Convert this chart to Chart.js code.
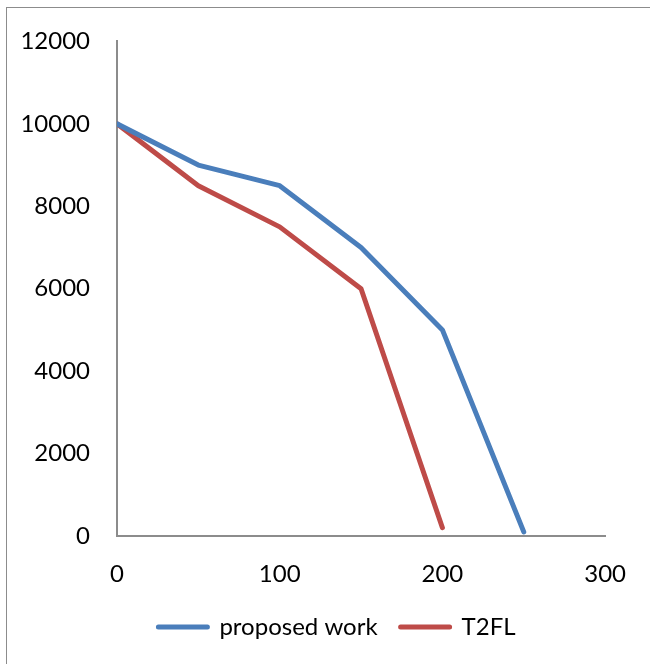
<!DOCTYPE html>
<html>
<head>
<meta charset="utf-8">
<script src="https://cdn.jsdelivr.net/npm/chart.js@4/dist/chart.umd.min.js"></script>
<style>
  html, body { margin: 0; padding: 0; background: #fff; overflow: hidden; }
  #wrap { position: relative; width: 650px; height: 664px; overflow: hidden; }
  #frame { position: absolute; left: 6px; top: 7px; right: 0; bottom: 0;
           border-top: 1px solid #8c8c8c; border-left: 1px solid #8c8c8c; pointer-events: none; }
</style>
</head>
<body>
<div id="wrap">
  <canvas id="chart" width="650" height="664"></canvas>
  <div id="frame"></div>
</div>
<script>
// values
const xValues = [0, 50, 100, 150, 200, 250];
const proposedWork = [10000, 9000, 8500, 7000, 5000, 100];
const t2fl = [10000, 8500, 7500, 6000, 200];
const xTicks = [0, 100, 200, 300];
const yTicks = [0, 2000, 4000, 6000, 8000, 10000, 12000];

const toPoints = (ys) => ys.map((y, i) => ({ x: xValues[i], y: y }));

Chart.defaults.font.family = "Lato, 'Liberation Sans', sans-serif";
Chart.defaults.font.size = 24;
Chart.defaults.color = "#000";

// the legend in the original sits a bit right of the canvas centre
const shiftLegend = {
    id: "shiftLegend",
    afterLayout(chart) {
        chart.legend.left += 28;
        chart.legend.right += 28;
    }
};

new Chart(document.getElementById("chart"), {
    type: "line",
    data: {
        datasets: [
            {
                label: "proposed work",
                data: toPoints(proposedWork),
                borderColor: "#4a7ebb",
                backgroundColor: "#4a7ebb",
                borderWidth: 5,
                pointRadius: 0,
                borderCapStyle: "round",
                borderJoinStyle: "round"
            },
            {
                label: "T2FL",
                data: toPoints(t2fl),
                borderColor: "#be4b48",
                backgroundColor: "#be4b48",
                borderWidth: 5,
                pointRadius: 0,
                borderCapStyle: "round",
                borderJoinStyle: "round"
            }
        ]
    },
    options: {
        responsive: false,
        animation: false,
        layout: { padding: { top: 28, right: 32, left: 0, bottom: 15 } },
        plugins: {
            tooltip: { enabled: false },
            legend: {
                position: "bottom",
                labels: {
                    boxWidth: 49,
                    boxHeight: 0,
                    padding: 23
                }
            }
        },
        scales: {
            x: {
                type: "linear",
                min: 0,
                max: 300,
                afterFit: (s) => { s.height = 56; },
                afterBuildTicks: (s) => { s.ticks = xTicks.map(v => ({ value: v })); },
                grid: { display: false, drawTicks: false },
                border: { color: "#8c8c8c", width: 2 },
                ticks: { padding: 24, callback: (v) => String(v) }
            },
            y: {
                min: 0,
                max: 12000,
                afterFit: (s) => { s.width = 117; },
                afterBuildTicks: (s) => { s.ticks = yTicks.map(v => ({ value: v })); },
                grid: { display: false, drawTicks: false },
                border: { color: "#8c8c8c", width: 2 },
                ticks: { padding: 27, callback: (v) => String(v) }
            }
        }
    },
    plugins: [shiftLegend]
});
</script>
</body>
</html>
